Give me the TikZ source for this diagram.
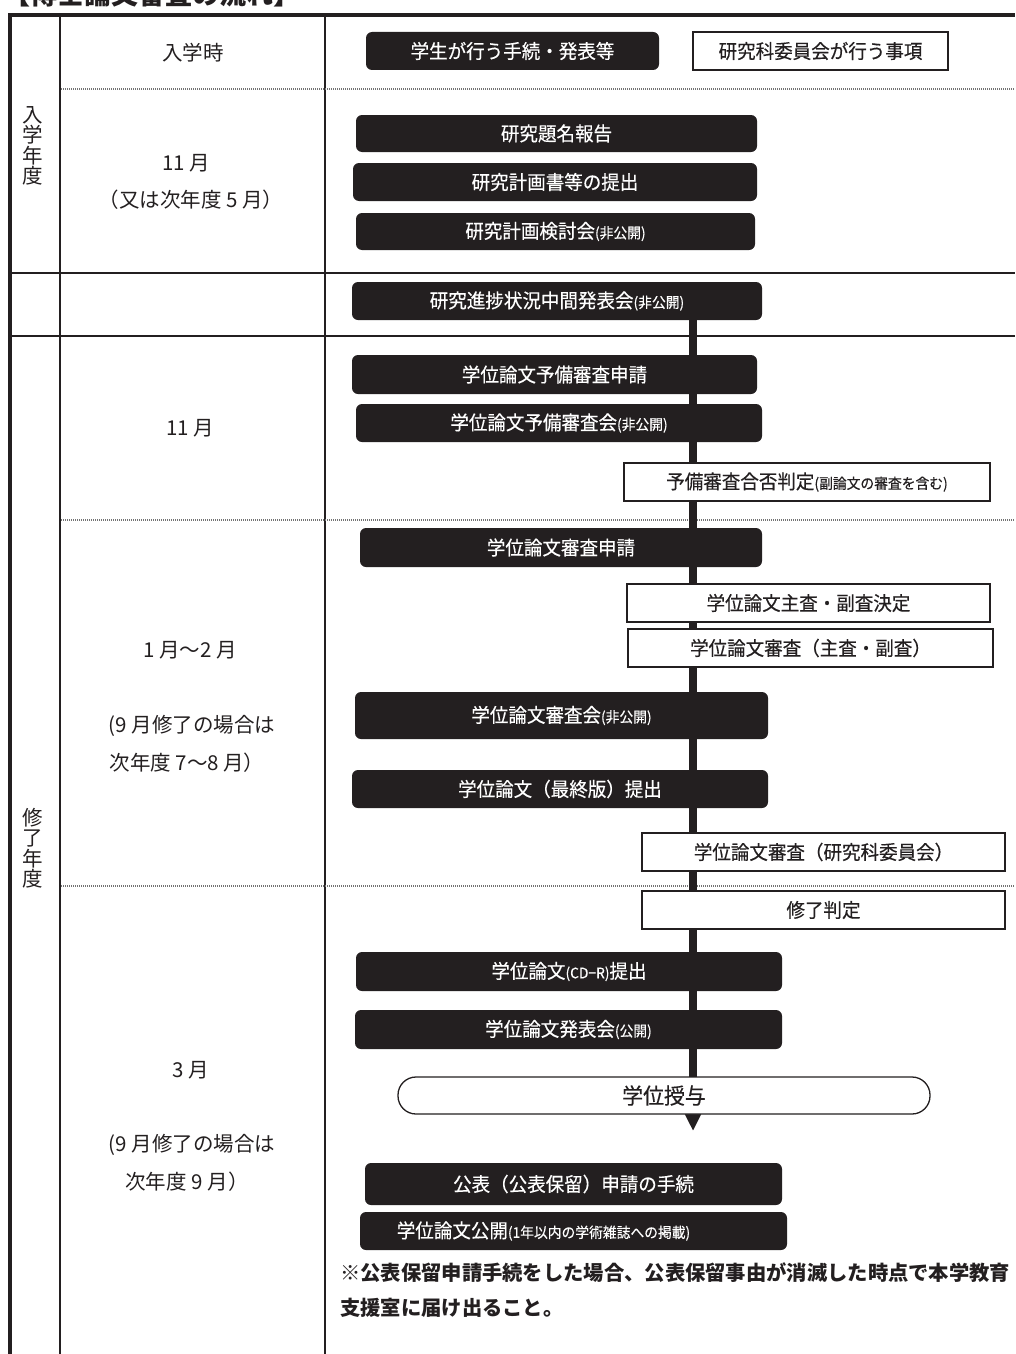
\documentclass[tikz,border=0pt]{standalone}
\usepackage{fontspec}
\setmainfont{Noto Sans CJK JP}
\newfontfamily\bxfont[FakeStretch=0.95,FakeBold=0.4]{Noto Sans CJK JP}
\usetikzlibrary{arrows.meta}
\pgfdeclarelayer{bg}
\pgfsetlayers{bg,main}
\definecolor{ink}{HTML}{231F20}
\newcommand\smp[1]{{\fontsize{14.5}{16}\selectfont #1}}
\tikzset{
  blk/.style={draw=none, fill=ink, text=white, rounded corners=6pt, inner sep=0pt,
              font=\bxfont\fontsize{19.5}{22}\selectfont},
  wht/.style={draw=ink, line width=1.3pt, fill=white, text=ink, inner sep=0pt,
              font=\bxfont\fontsize{19.5}{22}\selectfont},
  stad/.style={draw=ink, line width=1.3pt, fill=white, text=ink, inner sep=0pt,
              rounded corners=18pt, font=\bxfont\fontsize{22}{24}\selectfont},
  lbl/.style={text=ink, inner sep=0pt, font=\fontsize{20.5}{23}\selectfont},
  vlbl/.style={text=ink, inner sep=0pt, align=center, font=\fontsize{20.5}{20.5}\selectfont},
  note/.style={text=ink, inner sep=0pt, anchor=west, font=\bfseries\fontsize{20.3}{24}\selectfont},
  frame/.style={draw=ink, line width=3.5pt},
  colline/.style={draw=ink, line width=2.2pt},
  rowline/.style={draw=ink, line width=2.5pt},
  dotline/.style={draw=black!55, line width=1.8pt, dash pattern=on 1pt off 1pt},
  conn/.style={draw=ink, line width=8pt, -{Triangle[length=20pt,width=18pt]}}
}
\begin{document}
\begin{tikzpicture}[x=1pt,y=-1pt]
\useasboundingbox (0,0) rectangle (1015,1354);

% title (cut off at the top, as in the reference)
\node[anchor=base west, text=ink, inner sep=0pt, font=\bfseries\fontsize{27}{30}\selectfont] (title) at (3,5) {【博士論文審査の流れ】};

% left column labels
\node[vlbl] (y1) at (33,146) {入\\学\\年\\度};
\node[vlbl] (y2) at (33,848) {修\\了\\年\\度};

\node[lbl] (t1) at (193,53) {入学時};
\node[lbl] (t2) at (186,163) {11 月};
\node[lbl] (t3) at (191,200) {（又は次年度 5 月）};
\node[lbl] (t4) at (190,428) {11 月};
\node[lbl] (t5) at (190,650) {1 月〜2 月};
\node[lbl] (t6) at (192,726) {(9 月修了の場合は};
\node[lbl] (t7) at (187,763) {次年度 7〜8 月）};
\node[lbl] (t8) at (191,1070) {3 月};
\node[lbl] (t9) at (192,1145) {(9 月修了の場合は};
\node[lbl] (t10) at (187,1182) {次年度 9 月）};

% legend
\node[blk, minimum width=293pt, minimum height=38pt] (leg1) at (512.5,51) {学生が行う手続・発表等};
\node[wht, minimum width=255pt, minimum height=38pt] (leg2) at (820.5,51) {研究科委員会が行う事項};

% flow boxes
\node[blk, minimum width=401pt, minimum height=37pt] (b1) at (556.5,133.5) {研究題名報告};
\node[blk, minimum width=404pt, minimum height=38pt] (b2) at (555,182) {研究計画書等の提出};
\node[blk, minimum width=399pt, minimum height=37pt] (b3) at (555.5,231.5) {研究計画検討会\smp{(非公開)}};
\node[blk, minimum width=410pt, minimum height=38pt] (b4) at (557,301) {研究進捗状況中間発表会\smp{(非公開)}};
\node[blk, minimum width=405pt, minimum height=39pt] (b5) at (554.5,374.5) {学位論文予備審査申請};
\node[blk, minimum width=406pt, minimum height=38pt] (b6) at (559,423) {学位論文予備審査会\smp{(非公開)}};
\node[wht, minimum width=366pt, minimum height=38pt] (w1) at (807,482) {予備審査合否判定\smp{(副論文の審査を含む)}};
\node[blk, minimum width=402pt, minimum height=39pt] (b7) at (561,547.5) {学位論文審査申請};
\node[wht, minimum width=363pt, minimum height=38pt] (w2) at (808.5,603) {学位論文主査・副査決定};
\node[wht, minimum width=365pt, minimum height=38pt] (w3) at (810.5,648) {学位論文審査（主査・副査）};
\node[blk, minimum width=413pt, minimum height=47pt] (b8) at (561.5,715.5) {学位論文審査会\smp{(非公開)}};
\node[blk, minimum width=416pt, minimum height=38pt] (b9) at (560,789) {学位論文（最終版）提出};
\node[wht, minimum width=363pt, minimum height=38pt] (w4) at (823.5,852) {学位論文審査（研究科委員会）};
\node[wht, minimum width=363pt, minimum height=38pt] (w5) at (823.5,910) {修了判定};
\node[blk, minimum width=426pt, minimum height=39pt] (b10) at (569,971.5) {学位論文\smp{(CD−R)}提出};
\node[blk, minimum width=427pt, minimum height=39pt] (b11) at (568.5,1029.5) {学位論文発表会\smp{(公開)}};
\node[stad, minimum width=532pt, minimum height=37pt] (s1) at (664,1095.5) {学位授与};
\node[blk, minimum width=417pt, minimum height=42pt] (b12) at (573.5,1184) {公表（公表保留）申請の手続};
\node[blk, minimum width=427pt, minimum height=38pt] (b13) at (573.5,1231) {学位論文公開\smp{(1年以内の学術雑誌への掲載)}\hspace*{60pt}};

% note
\node[note] (n1) at (340,1273) {※公表保留申請手続をした場合、公表保留事由が消滅した時点で本学教育};
\node[note] (n2) at (340,1308) {支援室に届け出ること。};

\coordinate (tip) at (693,1131);

\begin{pgfonlayer}{bg}
  % table
  \draw[colline] (60,15) -- (60,1354);
  \draw[colline] (325,15) -- (325,1354);
  \draw[rowline] (10,273) -- (1015,273);
  \draw[rowline] (10,336) -- (1015,336);
  \draw[dotline] (61,89) -- (1015,89);
  \draw[dotline] (61,520) -- (1015,520);
  \draw[dotline] (61,886) -- (1015,886);
  \draw[frame] (10,1354) -- (10,15) -- (1015,15);
  % flow connector
  \draw[conn] (b4.south -| tip) -- (tip);
\end{pgfonlayer}
\end{tikzpicture}
\end{document}
